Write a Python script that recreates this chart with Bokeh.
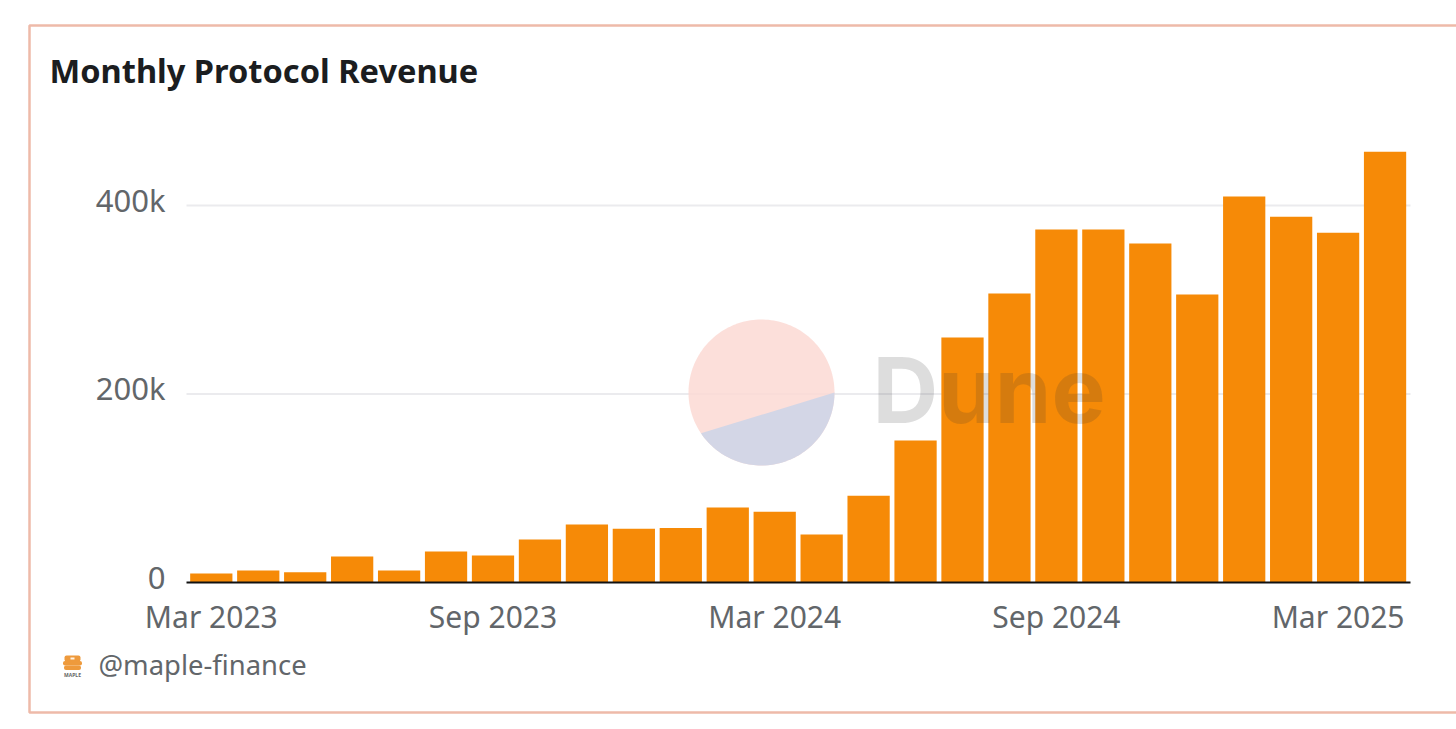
import numpy as np
from bokeh.plotting import figure
from bokeh.embed import file_html
from bokeh.resources import INLINE
from bokeh.models import FixedTicker, Label, BoxAnnotation, PolyAnnotation, Range1d, LinearAxis

months = list(range(26))
revenue = [9500, 12700, 11000, 27500, 12700, 33000, 28600, 45600, 61500, 57000,
           57800, 79500, 75000, 51000, 92000, 150600, 260000, 306600, 374500, 374500,
           359700, 305500, 409500, 388000, 371000, 457000]
x_tick_pos = [0, 6, 12, 18, 24]
x_tick_labels = ["Mar 2023", "Sep 2023", "Mar 2024", "Sep 2024", "Mar 2025"]
y_tick_pos = [0, 200000, 400000]
y_tick_labels = ["0", "200k", "400k"]

W, H = 1456, 729
PX_PER_MONTH = 46.95
PX_PER_UNIT = 0.9425 / 1000
X0_PX, Y0_PX = 210.8, 582
FONT = "Noto Sans"
GREY = "#62666a"

x_left = (186 - X0_PX) / PX_PER_MONTH
x_right = (1410 - X0_PX) / PX_PER_MONTH

p = figure(width=W, height=H, output_backend="svg", toolbar_location=None,
           x_range=Range1d(-X0_PX / PX_PER_MONTH, (W - X0_PX) / PX_PER_MONTH),
           y_range=Range1d(-(H - Y0_PX) / PX_PER_UNIT, Y0_PX / PX_PER_UNIT),
           x_axis_type=None, y_axis_type=None,
           min_border=0, outline_line_color=None,
           background_fill_color="white", border_fill_color="white")

# gridlines stop at the plot band
p.segment(x0=[x_left] * 2, x1=[x_right] * 2, y0=y_tick_pos[1:], y1=y_tick_pos[1:],
          line_color="#ebebee", line_width=2, level="underlay")

p.vbar(x=months, top=revenue, bottom=0, width=0.9, fill_color="#f68a07", line_color=None)

xaxis = LinearAxis(fixed_location=0, ticker=FixedTicker(ticks=x_tick_pos),
                   major_label_overrides=dict(zip(x_tick_pos, x_tick_labels)),
                   bounds=(x_left, x_right), axis_line_color="#111111", axis_line_width=2,
                   major_tick_line_color=None, minor_tick_line_color=None,
                   major_label_text_font=FONT, major_label_text_font_size="30px",
                   major_label_text_color=GREY, major_label_standoff=7)
p.add_layout(xaxis, "below")

# tick labels sit above their gridlines in the reference
label_ticks = [int(v + 6 / PX_PER_UNIT) for v in y_tick_pos]
yaxis = LinearAxis(fixed_location=x_left, ticker=FixedTicker(ticks=label_ticks),
                   major_label_overrides=dict(zip(label_ticks, y_tick_labels)),
                   axis_line_color=None, major_tick_line_color=None, minor_tick_line_color=None,
                   major_label_text_font=FONT, major_label_text_font_size="31px",
                   major_label_text_color=GREY, major_label_standoff=15)
p.add_layout(yaxis, "left")

# frame around the card
p.add_layout(BoxAnnotation(left=29, right=1470, top=25, bottom=712,
                           left_units="canvas", right_units="canvas", top_units="canvas", bottom_units="canvas",
                           fill_color=None, line_color="#eebaa9", line_alpha=1, line_width=2.5, editable=False))

# watermark
cx, cy, r = 761, 392, 73
t = np.linspace(0, 2 * np.pi, 180)
p.add_layout(PolyAnnotation(xs=list(cx + r * np.cos(t)), ys=list(cy + r * np.sin(t)),
                            xs_units="canvas", ys_units="canvas",
                            fill_color="#fcd9d4", fill_alpha=0.85, line_color=None))
t2 = np.radians(np.linspace(0, 146, 80))
p.add_layout(PolyAnnotation(xs=list(cx + r * np.cos(t2)), ys=list(cy + r * np.sin(t2)),
                            xs_units="canvas", ys_units="canvas",
                            fill_color="#d3d6e6", fill_alpha=1, line_color=None))
p.add_layout(Label(x=872, y=389, x_units="canvas", y_units="canvas", text="Dune",
                   text_font="Inter", text_font_style="bold", text_font_size="91px",
                   text_color="#333333", text_alpha=0.17, text_baseline="middle", text_align="left"))

# title and footer
p.add_layout(Label(x=49, y=70, x_units="canvas", y_units="canvas", text="Monthly Protocol Revenue",
                   text_font=FONT, text_font_style="bold", text_font_size="32.6px",
                   text_color="#1b1d20", text_baseline="middle", text_align="left"))
p.add_layout(Label(x=98, y=664, x_units="canvas", y_units="canvas", text="@maple-finance",
                   text_font=FONT, text_font_size="27.4px",
                   text_color=GREY, text_baseline="middle", text_align="left"))

# small maple logo
for top_px, h, w in [(655, 6, 16), (660.5, 4.5, 19), (665, 4.5, 17)]:
    p.add_layout(BoxAnnotation(left=72 - w / 2, right=72 + w / 2, top=top_px, bottom=top_px + h,
                               left_units="canvas", right_units="canvas", top_units="canvas", bottom_units="canvas",
                               fill_color="#ee9a3c", fill_alpha=1, line_color=None, border_radius=2, editable=False))
p.add_layout(BoxAnnotation(left=70, right=74, top=657, bottom=659,
                           left_units="canvas", right_units="canvas", top_units="canvas", bottom_units="canvas",
                           fill_color="#fff4e6", fill_alpha=1, line_color=None, editable=False))
p.add_layout(Label(x=72, y=674, x_units="canvas", y_units="canvas", text="MAPLE",
                   text_font=FONT, text_font_style="bold", text_font_size="5px",
                   text_color="#666666", text_baseline="middle", text_align="center"))

open("out.html", "w").write(file_html(p, INLINE))
